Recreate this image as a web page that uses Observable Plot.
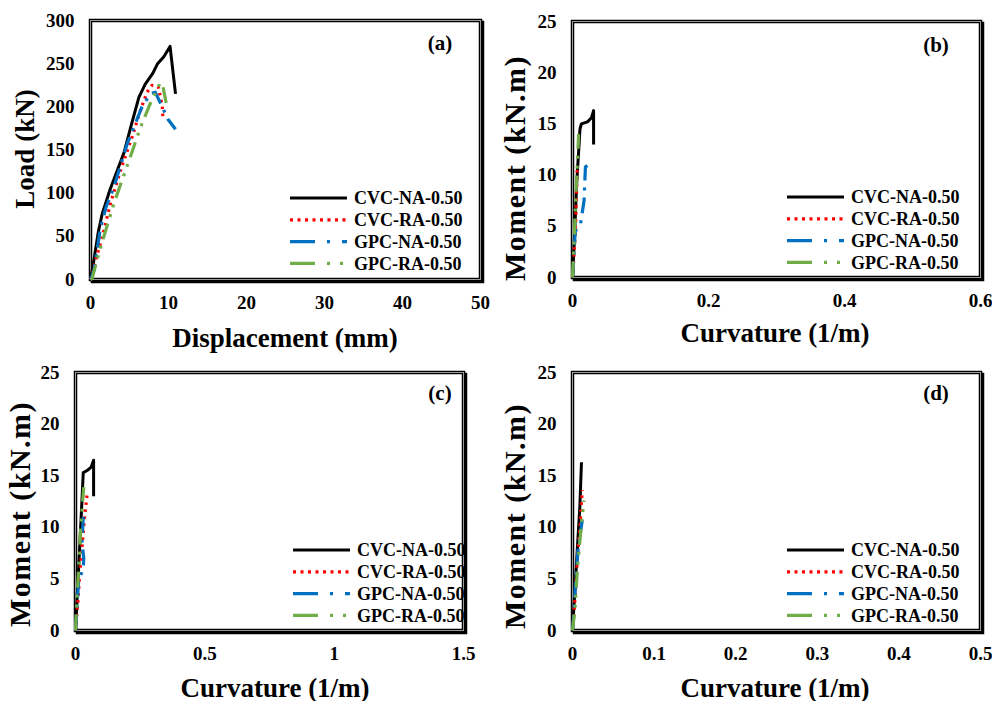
<!DOCTYPE html>
<html><head><meta charset="utf-8">
<script src="https://cdn.jsdelivr.net/npm/d3@7"></script>
<script src="https://cdn.jsdelivr.net/npm/@observablehq/plot@0.6"></script>
<style>
body{margin:0;background:#fff;}
#root{position:relative;width:992px;height:701px;overflow:hidden;font-family:"Liberation Serif","Times New Roman",serif;font-weight:bold;color:#000;}
.panel{position:absolute;}
.ttl{position:absolute;font-size:27px;white-space:nowrap;line-height:1;}
.ytl{transform:translate(-50%,-50%) rotate(-90deg);}
.mom{font-size:30px;letter-spacing:1.5px;}
.xtl{transform:translate(-50%,-50%);}
.tag{position:absolute;font-size:21px;line-height:1;transform:translate(-50%,-50%);}
.leg{position:absolute;overflow:visible;}
</style></head><body><div id="root"></div>
<script>
// ---- series definitions ----
const seriesNames = ["CVC-NA-0.50", "CVC-RA-0.50", "GPC-NA-0.50", "GPC-RA-0.50"];
const seriesColors = ["#000000", "#FF0000", "#0070C0", "#70AD47"];
const seriesDash = [null, "2.5,4.5", "16,7,3,7", "16,7,3,7,3,7"];

// ---- panel (a): Load (kN) vs Displacement (mm) ----
const a_CVC_NA = [[0,0],[0.3,15],[0.6,32],[1.0,55],[1.5,76],[2.5,104],[3.5,128],[4.3,147],[5.2,178],[6.2,211],[7.0,226],[8.0,239],[8.6,250],[9.4,258],[10.2,270],[10.9,215]];
const a_CVC_RA = [[0,0],[0.3,8],[0.64,22],[1.5,49],[2.56,88],[3.84,126],[5.33,165],[6.4,196],[7.25,217],[7.9,225],[8.7,223],[9.2,201],[9.3,184]];
const a_GPC_NA = [[0,0],[0.43,10],[1.28,60],[2.0,84],[3.0,107],[4.7,157],[6.6,200],[7.67,215],[8.3,217],[9.2,200],[9.9,186],[10.9,174]];
const a_GPC_RA = [[0,0],[0.2,1],[1.28,37],[3.0,88],[5.1,142],[6.4,176],[7.67,204],[8.95,228],[9.3,223],[9.8,200]];

// ---- panel (b): Moment (kN.m) vs Curvature (1/m) ----
const b_CVC_NA = [[0,0],[0.003,4],[0.006,9],[0.011,14.5],[0.013,15],[0.022,15.2],[0.028,15.6],[0.031,16.3],[0.031,13]];
const b_CVC_RA = [[0,0],[0.003,3],[0.005,6],[0.007,10.8]];
const b_GPC_NA = [[0,0],[0.002,2],[0.004,4.5],[0.012,5.3],[0.017,7.5],[0.019,10.8],[0.024,11]];
const b_GPC_RA = [[0,0],[0.002,3],[0.005,8],[0.009,14]];

// ---- panel (c): Moment (kN.m) vs Curvature (1/m) ----
const c_CVC_NA = [[0,0],[0.01,5],[0.02,10],[0.03,15.3],[0.045,15.5],[0.06,15.8],[0.07,16.5],[0.07,13]];
const c_CVC_RA = [[0,0],[0.01,3],[0.015,5],[0.025,8],[0.035,11],[0.045,13.2]];
const c_GPC_NA = [[0,0],[0.005,2],[0.012,4.8],[0.03,6],[0.032,7],[0.025,8.5],[0.03,11]];
const c_GPC_RA = [[0,0],[0.005,3],[0.015,7],[0.02,10],[0.032,13.9]];

// ---- panel (d): Moment (kN.m) vs Curvature (1/m) ----
const d_CVC_NA = [[0,0],[0.003,4],[0.006,8],[0.009,12],[0.011,16.3]];
const d_CVC_RA = [[0,0],[0.003,3],[0.006,7],[0.009,10],[0.012,13.6]];
const d_GPC_NA = [[0,0],[0.002,2],[0.004,5],[0.007,8],[0.012,10.7]];
const d_GPC_RA = [[0,0],[0.003,2],[0.006,6],[0.01,9.5],[0.014,12.6]];

// ---- ticks & labels ----
const aXTicks = [0,10,20,30,40,50], aYTicks = [0,50,100,150,200,250,300];
const bXTicks = [0,0.2,0.4,0.6], mYTicks = [0,5,10,15,20,25];
const cXTicks = [0,0.5,1,1.5];
const dXTicks = [0,0.1,0.2,0.3,0.4,0.5];
const dispLabel = "Displacement (mm)", loadLabel = "Load (kN)";
const curvLabel = "Curvature (1/m)", momLabel = "Moment (kN.m)";
const panelTags = ["(a)","(b)","(c)","(d)"];

const root = document.getElementById("root");

function panel(cfg) {
  const series = [cfg.s0, cfg.s1, cfg.s2, cfg.s3];
  const lines = series.map((pts, i) => Plot.line(pts, {
    x: d => d[0], y: d => d[1], stroke: seriesColors[i],
    strokeWidth: i === 0 ? 3 : 3.2, strokeDasharray: seriesDash[i],
    strokeLinejoin: "round", strokeLinecap: "butt"
  }));
  const chart = Plot.plot({
    width: cfg.w, height: cfg.h,
    marginLeft: cfg.ml, marginRight: cfg.mr, marginTop: cfg.mt, marginBottom: cfg.mb,
    x: {domain: cfg.xd}, y: {domain: cfg.yd},
    style: {fontFamily: '"Liberation Serif","Times New Roman",serif', fontWeight: "bold", fontSize: "19px", color: "#000", background: "transparent", overflow: "visible"},
    marks: [
      Plot.frame({stroke: "#000", strokeWidth: 3.5, dx: 2, dy: 2}),
      Plot.frame({fill: "#fff", stroke: "#000", strokeWidth: 3.5}),
      Plot.frame({stroke: "#9a9a9a", strokeWidth: 1}),
      Plot.axisX({ticks: cfg.xt, tickSize: 0, tickPadding: 16, tickFormat: d => String(d), label: null, fontSize: 19, fontWeight: "bold"}),
      Plot.axisY({ticks: cfg.yt, tickSize: 0, tickPadding: 16, tickFormat: d => String(d), label: null, fontSize: 19, fontWeight: "bold"}),
      ...lines
    ]
  });
  chart.classList.add("panel");
  chart.style.left = cfg.left + "px";
  chart.style.top = cfg.top + "px";
  root.appendChild(chart);

  // axis titles
  const xt = document.createElement("div");
  xt.className = "ttl xtl"; xt.textContent = cfg.xl;
  xt.style.left = cfg.xlx + "px"; xt.style.top = cfg.xly + "px";
  root.appendChild(xt);
  const yt = document.createElement("div");
  yt.className = "ttl ytl" + (cfg.yl === momLabel ? " mom" : ""); yt.textContent = cfg.yl;
  yt.style.left = cfg.ylx + "px"; yt.style.top = cfg.yly + "px";
  root.appendChild(yt);
  // panel tag
  const tg = document.createElement("div");
  tg.className = "tag"; tg.textContent = cfg.tag;
  tg.style.left = cfg.tx + "px"; tg.style.top = cfg.ty + "px";
  root.appendChild(tg);

  // legend
  const lg = d3.select(root).append("svg").attr("class", "leg")
    .attr("width", 200).attr("height", 90)
    .style("left", cfg.lgx + "px").style("top", cfg.lgy + "px");
  seriesNames.forEach((name, i) => {
    const y = 10 + i * 21.8;
    lg.append("line").attr("x1", 0).attr("x2", 57).attr("y1", y).attr("y2", y)
      .attr("stroke", seriesColors[i]).attr("stroke-width", i === 0 ? 3 : 3.2)
      .attr("stroke-dasharray", i === 0 ? null : (i === 1 ? "3,4.5" : (i === 2 ? "25,12,3,12" : "25,12,3,10,3,10")));
    lg.append("text").attr("x", 64).attr("y", y).attr("dy", "0.35em")
      .attr("font-size", 18).attr("font-weight", "bold")
      .attr("font-family", '"Liberation Serif","Times New Roman",serif')
      .text(name);
  });
}

panel({left: 0, top: 0, w: 500, h: 345, ml: 90, mr: 20, mt: 20, mb: 66,
  xd: [0,50], yd: [0,300], xt: aXTicks, yt: aYTicks,
  s0: a_CVC_NA, s1: a_CVC_RA, s2: a_GPC_NA, s3: a_GPC_RA,
  xl: dispLabel, xlx: 285, xly: 338, yl: loadLabel, ylx: 25, yly: 149,
  tag: panelTags[0], tx: 440, ty: 43, lgx: 290, lgy: 188});

panel({left: 490, top: 0, w: 502, h: 345, ml: 82, mr: 12, mt: 21, mb: 68,
  xd: [0,0.6], yd: [0,25], xt: bXTicks, yt: mYTicks,
  s0: b_CVC_NA, s1: b_CVC_RA, s2: b_GPC_NA, s3: b_GPC_RA,
  xl: curvLabel, xlx: 775, xly: 333, yl: momLabel, ylx: 515, yly: 168,
  tag: panelTags[1], tx: 936, ty: 45, lgx: 787, lgy: 187});

panel({left: 0, top: 350, w: 500, h: 350, ml: 75, mr: 37, mt: 22, mb: 70,
  xd: [0,1.5], yd: [0,25], xt: cXTicks, yt: mYTicks,
  s0: c_CVC_NA, s1: c_CVC_RA, s2: c_GPC_NA, s3: c_GPC_RA,
  xl: curvLabel, xlx: 275, xly: 688, yl: momLabel, ylx: 20, yly: 514,
  tag: panelTags[2], tx: 440, ty: 393, lgx: 293, lgy: 540});

panel({left: 490, top: 350, w: 502, h: 350, ml: 82, mr: 12, mt: 22, mb: 70,
  xd: [0,0.5], yd: [0,25], xt: dXTicks, yt: mYTicks,
  s0: d_CVC_NA, s1: d_CVC_RA, s2: d_GPC_NA, s3: d_GPC_RA,
  xl: curvLabel, xlx: 775, xly: 688, yl: momLabel, ylx: 515, yly: 516,
  tag: panelTags[3], tx: 936, ty: 393, lgx: 787, lgy: 540});
</script></body></html>
